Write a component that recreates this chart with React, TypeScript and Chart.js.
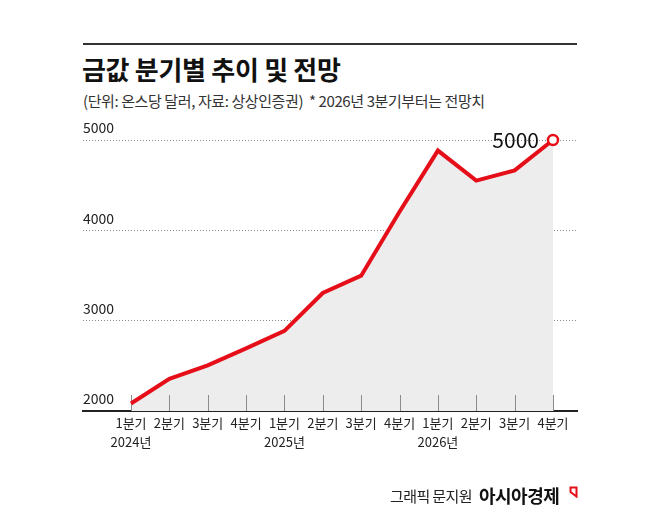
import React, { useEffect, useRef } from "react";
import { Chart, registerables } from "chart.js";

Chart.register(...registerables);

const quarters = ["1분기", "2분기", "3분기", "4분기", "1분기", "2분기", "3분기", "4분기", "1분기", "2분기", "3분기", "4분기"];
const years = ["2024년", "", "", "", "2025년", "", "", "", "2026년", "", "", ""];
const goldPrice = [2083, 2356, 2506, 2694, 2887, 3306, 3498, 4206, 4883, 4550, 4664, 5000];
const yTicks = [2000, 3000, 4000, 5000];
const endLabel = "5000";

const RED = "#e60f19";
const KR = "'Noto Sans CJK KR', 'Noto Sans', sans-serif";

export default function App() {
  const ref = useRef<HTMLCanvasElement | null>(null);

  useEffect(() => {
    if (!ref.current) return;
    const lastIdx = goldPrice.length - 1;

    const overlay = {
      id: "overlay",
      beforeDatasetsDraw(chart: any) {
        const { ctx, scales } = chart;
        const x = scales.x;
        const y = scales.y;
        const base = y.getPixelForValue(yTicks[0]);
        ctx.save();
        ctx.strokeStyle = "#8c8c8c";
        ctx.lineWidth = 1;
        quarters.forEach((_, i) => {
          const px = Math.round(x.getPixelForValue(i)) + 0.5;
          ctx.beginPath();
          ctx.moveTo(px, base);
          ctx.lineTo(px, base - 16);
          ctx.stroke();
        });
        ctx.restore();
      },
      afterDatasetsDraw(chart: any) {
        const { ctx } = chart;
        const meta = chart.getDatasetMeta(0);
        const last = meta.data[meta.data.length - 1];
        ctx.save();
        ctx.font = `21px ${KR}`;
        ctx.fillStyle = "#111";
        ctx.textAlign = "right";
        ctx.textBaseline = "middle";
        ctx.fillText(endLabel, last.x - 14, last.y);
        ctx.restore();
      },
    };

    const chart = new Chart(ref.current, {
      type: "line",
      data: {
        datasets: [
          {
            data: goldPrice.map((v, i) => ({ x: i, y: v })),
            borderColor: RED,
            borderWidth: 4,
            backgroundColor: "#ededed",
            fill: "start",
            tension: 0,
            clip: false,
            pointRadius: (c: any) => (c.dataIndex === lastIdx ? 5 : 0),
            pointHoverRadius: 0,
            pointBackgroundColor: "#ffffff",
            pointBorderColor: RED,
            pointBorderWidth: 2.5,
          } as any,
        ],
      },
      options: {
        animation: false,
        responsive: false,
        events: [],
        layout: { padding: { left: 83, right: 81, top: 140, bottom: 55 } },
        plugins: {
          legend: { display: false },
          tooltip: { enabled: false },
          filler: { drawTime: "beforeDatasetsDraw" } as any,
        },
        scales: {
          x: {
            type: "linear",
            min: -1.251,
            max: 11.626,
            z: 1,
            afterBuildTicks: (s: any) => {
              s.ticks = quarters.map((_, i) => ({ value: i }));
            },
            afterFit: (s: any) => {
              s.height = 60;
            },
            grid: { display: false, drawTicks: false },
            border: { display: true, color: "#222", width: 2 },
            ticks: {
              autoSkip: false,
              maxRotation: 0,
              padding: 2,
              color: "#222",
              font: { family: KR, size: 13, lineHeight: 1.5 },
              callback: (v: any) => {
                const i = Number(v);
                return years[i] ? [quarters[i], years[i]] : quarters[i];
              },
            },
          },
          y: {
            type: "linear",
            min: yTicks[0],
            max: yTicks[yTicks.length - 1],
            afterBuildTicks: (s: any) => {
              s.ticks = yTicks.map((v) => ({ value: v }));
            },
            afterFit: (s: any) => {
              s.width = 0;
            },
            grid: {
              drawTicks: false,
              tickLength: 0,
              lineWidth: 1,
              color: (c: any) => (c.tick && c.tick.value === yTicks[0] ? "rgba(0,0,0,0)" : "#8a8a8a"),
            },
            border: { display: false, dash: [1, 2] },
            ticks: {
              mirror: true,
              padding: 0,
              labelOffset: -12,
              color: "#222",
              font: { family: KR, size: 14 },
              callback: (v: any) => String(v),
            },
          },
        },
      } as any,
      plugins: [overlay],
    });
    return () => chart.destroy();
  }, []);

  return (
    <div
      style={{
        position: "fixed",
        left: 0,
        top: 0,
        width: 658,
        height: 526,
        background: "#fff",
        overflow: "hidden",
        fontFamily: KR,
      }}
    >
      <div style={{ position: "absolute", left: 83, top: 43, width: 494, height: 2, background: "#333" }} />
      <div
        style={{
          position: "absolute",
          left: 82,
          top: 55,
          fontSize: 26,
          fontWeight: 700,
          lineHeight: "28px",
          color: "#111",
          letterSpacing: "-0.3px",
          whiteSpace: "pre",
        }}
      >
        금값 분기별 추이 및 전망
      </div>
      <div
        style={{
          position: "absolute",
          left: 83,
          top: 91,
          fontSize: 15,
          lineHeight: "19px",
          color: "#333",
          letterSpacing: "-0.4px",
          whiteSpace: "pre",
        }}
      >
        {"(단위: 온스당 달러, 자료: 상상인증권)  * 2026년 3분기부터는 전망치"}
      </div>
      <canvas ref={ref} width={658} height={526} style={{ position: "absolute", left: 0, top: 0, width: 658, height: 526 }} />
      <div
        style={{
          position: "absolute",
          left: 390,
          top: 486,
          fontSize: 15,
          lineHeight: "19px",
          color: "#222",
          letterSpacing: "-0.6px",
          whiteSpace: "pre",
        }}
      >
        그래픽 문지원
      </div>
      <div
        style={{
          position: "absolute",
          left: 479,
          top: 484,
          fontSize: 18,
          fontWeight: 700,
          lineHeight: "22px",
          color: "#111",
          letterSpacing: "-0.5px",
          whiteSpace: "pre",
        }}
      >
        아시아경제
      </div>
      <svg style={{ position: "absolute", left: 569, top: 486 }} width={10} height={12} viewBox="0 0 10 12">
        <path d="M1.5 1.5 H7.5 V10.5 L1.5 6 Z" fill="none" stroke={RED} strokeWidth={2} strokeLinejoin="miter" />
      </svg>
    </div>
  );
}
